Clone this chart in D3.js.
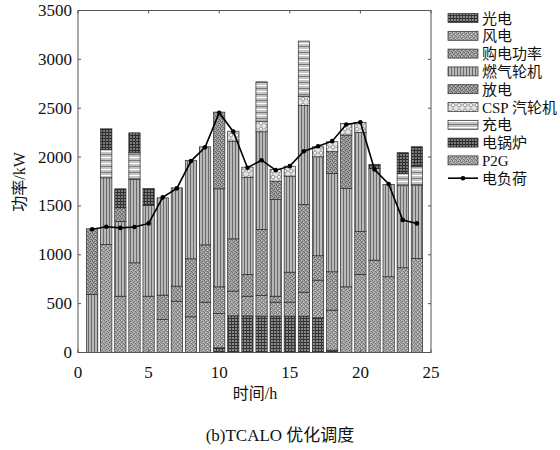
<!DOCTYPE html>
<meta charset="UTF-8">
<style>
  body { margin: 0; background: #fff; }
  svg { display: block; }
  text { font-family: "Liberation Serif", "Noto Sans CJK SC", serif; fill: #111; }
  .axis line, .axis path { stroke: #555; }
  .bar rect { stroke: #2a2a2a; stroke-width: 0.7px; }
  .load { fill: none; stroke: #000; stroke-width: 1.6px; }
</style>
<body>
<script src="https://cdn.jsdelivr.net/npm/d3@7/dist/d3.min.js"></script>
<script>
// hours 1..24
var hours = d3.range(1, 25);

// series values (kW)
var pv      = [0, 0, 0, 0, 0, 0, 0, 0, 0, 48, 375, 375, 372, 372, 372, 372, 355, 24, 0, 0, 0, 0, 0, 0];
var wind    = [0, 1105, 576, 918, 576, 338, 525, 365, 515, 351, 253, 201, 211, 143, 143, 245, 385, 409, 672, 799, 945, 775, 867, 963];
var grid    = [0, 0, 0, 0, 0, 249, 154, 594, 587, 273, 535, 222, 676, 61, 307, 898, 250, 393, 0, 440, 0, 0, 0, 0];
var gasTurb = [594, 683, 764, 853, 928, 996, 1006, 1006, 1003, 1003, 1000, 996, 1000, 990, 983, 1013, 1013, 1007, 1008, 1013, 940, 946, 840, 751];
var disch   = [672, 0, 141, 0, 0, 0, 0, 0, 0, 785, 0, 0, 0, 187, 0, 0, 0, 222, 546, 0, 0, 0, 0, 0];
var csp     = [0, 0, 0, 0, 0, 0, 0, 0, 0, 0, 102, 103, 108, 120, 102, 95, 102, 102, 119, 102, 0, 0, 0, 0];
var charge  = [0, 290, 0, 273, 0, 0, 0, 0, 0, 0, 0, 0, 403, 0, 0, 564, 0, 0, 0, 0, 0, 0, 126, 187];
var boiler  = [0, 211, 194, 204, 174, 0, 0, 0, 0, 0, 0, 0, 0, 0, 0, 0, 0, 0, 0, 0, 41, 0, 212, 205];
var p2g     = [0, 0, 0, 0, 0, 0, 0, 0, 0, 0, 0, 0, 0, 0, 0, 0, 0, 0, 0, 0, 0, 0, 0, 0];
var load    = [1262, 1287, 1275, 1285, 1321, 1588, 1680, 1959, 2100, 2454, 2260, 1891, 1968, 1866, 1907, 2060, 2111, 2163, 2334, 2357, 1873, 1724, 1355, 1321];

var seriesNames = ["光电", "风电", "购电功率", "燃气轮机", "放电", "CSP 汽轮机", "充电", "电锅炉", "P2G"];
var seriesKeys  = ["pv", "wind", "grid", "gas", "disch", "csp", "charge", "boiler", "p2g"];
var seriesFill  = ["pGrid", "pDots", "pDots2", "pVert", "pDots3", "pCheck", "pHor", "pGrid2", "pDots"];
var xTicks = [0, 5, 10, 15, 20, 25];
var yTicks = [0, 500, 1000, 1500, 2000, 2500, 3000, 3500];

var table = hours.map(function(h, i) {
  return { hour: h, pv: pv[i], wind: wind[i], grid: grid[i], gas: gasTurb[i],
           disch: disch[i], csp: csp[i], charge: charge[i], boiler: boiler[i], p2g: p2g[i] };
});

var W = 560, H = 450;
var svg = d3.select("body").append("svg").attr("width", W).attr("height", H);

// patterns to imitate the grey hatching
var defs = svg.append("defs");
function pat(id, w, h, bg) {
  var p = defs.append("pattern").attr("id", id).attr("patternUnits", "userSpaceOnUse")
    .attr("width", w).attr("height", h);
  p.append("rect").attr("width", w).attr("height", h).attr("fill", bg);
  return p;
}
var p;
p = pat("pGrid", 3, 3, "#8a8a8a");
p.append("rect").attr("width", 3).attr("height", 1).attr("fill", "#2e2e2e");
p.append("rect").attr("width", 1).attr("height", 3).attr("fill", "#3a3a3a");
p = pat("pGrid2", 3, 3, "#7a7a7a");
p.append("rect").attr("width", 3).attr("height", 1).attr("fill", "#2a2a2a");
p.append("rect").attr("width", 1).attr("height", 3).attr("fill", "#333");
p = pat("pVert", 3, 3, "#b8b8b8");
p.append("rect").attr("x", 1).attr("width", 1).attr("height", 3).attr("fill", "#6a6a6a");
p = pat("pHor", 4, 6, "#c4c4c4");
p.append("rect").attr("y", 1).attr("width", 4).attr("height", 1).attr("fill", "#fff");
p.append("rect").attr("y", 4).attr("width", 4).attr("height", 1).attr("fill", "#7a7a7a");
function dots(id, bg, dark, light) {
  var q = pat(id, 4, 4, bg);
  [[0, 0], [2, 1], [1, 2], [3, 3]].forEach(function(c) {
    q.append("rect").attr("x", c[0]).attr("y", c[1]).attr("width", 1).attr("height", 1).attr("fill", dark);
  });
  [[1, 0], [3, 2]].forEach(function(c) {
    q.append("rect").attr("x", c[0]).attr("y", c[1]).attr("width", 1).attr("height", 1).attr("fill", light);
  });
}
dots("pDots", "#a4a4a4", "#6e6e6e", "#cfcfcf");
dots("pDots2", "#9c9c9c", "#666", "#c8c8c8");
dots("pDots3", "#969696", "#5e5e5e", "#c0c0c0");
p = pat("pCheck", 6, 6, "#e2e2e2");
p.append("path").attr("d", "M3 0 L6 3 L3 6 L0 3 Z").attr("fill", "#a8a8a8");
p.append("rect").attr("x", 2).attr("y", 2).attr("width", 2).attr("height", 2).attr("fill", "#f4f4f4");

var x = d3.scaleLinear().domain([0, 25]).range([78, 431]);
var y = d3.scaleLinear().domain([0, 3500]).range([352.5, 10.5]);
var bw = (x(1) - x(0)) * 0.8;

// stacked bars
var stack = d3.stack().keys(seriesKeys)(table);
svg.append("g").selectAll("g").data(stack).join("g")
  .attr("class", "bar")
  .each(function(s, k) {
    d3.select(this).selectAll("rect")
      .data(s.filter(function(d) { return d[1] - d[0] > 0; }))
      .join("rect")
      .attr("x", function(d) { return x(d.data.hour) - bw / 2; })
      .attr("y", function(d) { return y(d[1]); })
      .attr("width", bw)
      .attr("height", function(d) { return y(d[0]) - y(d[1]); })
      .attr("fill", "url(#" + seriesFill[k] + ")");
  });

// frame + inward ticks
var ax = svg.append("g").attr("class", "axis");
ax.append("rect").attr("x", x(0)).attr("y", y(3500)).attr("width", x(25) - x(0)).attr("height", y(0) - y(3500))
  .attr("fill", "none").attr("stroke", "#555");
xTicks.forEach(function(t) {
  ax.append("line").attr("x1", x(t)).attr("x2", x(t)).attr("y1", y(0)).attr("y2", y(0) - 3);
  ax.append("line").attr("x1", x(t)).attr("x2", x(t)).attr("y1", y(3500)).attr("y2", y(3500) + 3);
  svg.append("text").attr("x", x(t)).attr("y", 378).attr("text-anchor", "middle")
    .style("font-size", "17px").text(t);
});
yTicks.forEach(function(t) {
  ax.append("line").attr("x1", x(0)).attr("x2", x(0) + 3).attr("y1", y(t)).attr("y2", y(t));
  ax.append("line").attr("x1", x(25)).attr("x2", x(25) - 3).attr("y1", y(t)).attr("y2", y(t));
  svg.append("text").attr("x", 72).attr("y", y(t) + 5.5).attr("text-anchor", "end")
    .style("font-size", "17px").text(t);
});

// load line
var line = d3.line().x(function(d, i) { return x(hours[i]); }).y(function(d) { return y(d); });
svg.append("path").attr("class", "load").attr("d", line(load));
svg.append("g").selectAll("circle").data(load).join("circle")
  .attr("cx", function(d, i) { return x(hours[i]); })
  .attr("cy", function(d) { return y(d); })
  .attr("r", 2.3).attr("fill", "#000");

// axis titles
svg.append("text").attr("transform", "translate(25,182) rotate(-90)")
  .attr("text-anchor", "middle").style("font-size", "16px").text("功率/kW");
svg.append("text").attr("x", 255).attr("y", 399).attr("text-anchor", "middle")
  .style("font-size", "16px").text("时间/h");
svg.append("text").attr("x", 280).attr("y", 441).attr("text-anchor", "middle")
  .style("font-size", "17px").text("(b)TCALO 优化调度");

// legend
var lg = svg.append("g");
seriesNames.forEach(function(n, k) {
  var ly = 18 + k * 17.8;
  lg.append("rect").attr("x", 448).attr("y", ly - 4.5).attr("width", 30).attr("height", 9)
    .attr("fill", "url(#" + seriesFill[k] + ")").attr("stroke", "#2a2a2a").attr("stroke-width", 0.7);
  lg.append("text").attr("x", 482).attr("y", ly + 5.5).style("font-size", "15px").text(n);
});
var ly = 18 + 9 * 17.8;
lg.append("line").attr("x1", 448).attr("x2", 478).attr("y1", ly).attr("y2", ly)
  .attr("stroke", "#000").attr("stroke-width", 1.6);
lg.append("circle").attr("cx", 463).attr("cy", ly).attr("r", 2.3).attr("fill", "#000");
lg.append("text").attr("x", 482).attr("y", ly + 5.5).style("font-size", "15px").text("电负荷");
</script>
</body>
